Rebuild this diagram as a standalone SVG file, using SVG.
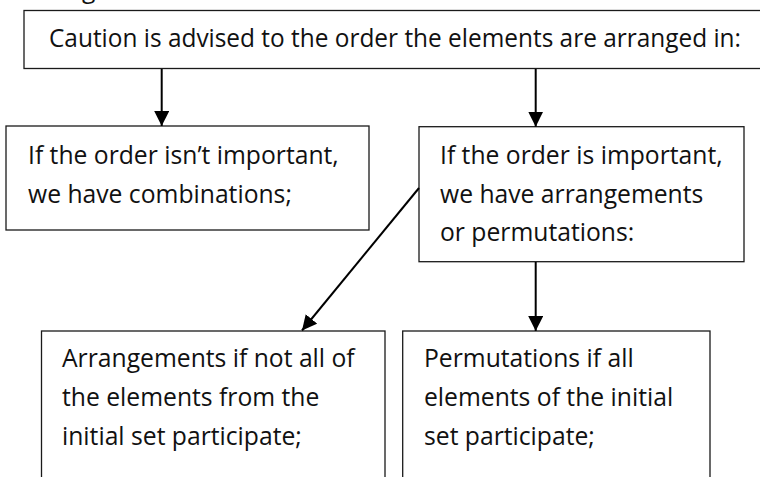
<svg xmlns="http://www.w3.org/2000/svg" width="760" height="477" viewBox="0 0 760 477">
<style>
.box{fill:#fff;stroke:#1a1a1a;stroke-width:1.3}
.t{font-family:"Open Sans","Noto Sans",sans-serif;font-size:24.7px;fill:#111}
.c{stroke:#000;stroke-width:2;fill:none}
</style>
<defs>
<marker id="ah" markerUnits="userSpaceOnUse" markerWidth="16" markerHeight="16" refX="15" refY="7.5" orient="auto">
<path d="M0,0 L15,7.5 L0,15 z" fill="#000"/>
</marker>
</defs>
<rect width="760" height="477" fill="#fff"/>
<text class="t" x="82" y="-2">g</text>
<g id="top">
<rect class="box" x="24" y="10.5" width="760" height="58"/>
<text class="t" x="49" y="46.7" textLength="692" lengthAdjust="spacingAndGlyphs">Caution is advised to the order the elements are arranged in:</text>
</g>
<g id="combinations">
<rect class="box" x="6" y="126" width="363" height="104"/>
<text class="t" x="28" y="163.5">If the order isn’t important,</text>
<text class="t" x="28" y="202.5">we have combinations;</text>
</g>
<g id="important">
<rect class="box" x="419" y="126.7" width="325" height="135"/>
<text class="t" x="440" y="164">If the order is important,</text>
<text class="t" x="440" y="202.5">we have arrangements</text>
<text class="t" x="440" y="241">or permutations:</text>
</g>
<g id="arrangements">
<rect class="box" x="41.5" y="331" width="343.5" height="170"/>
<text class="t" x="62" y="367">Arrangements if not all of</text>
<text class="t" x="62" y="406">the elements from the</text>
<text class="t" x="62" y="444.5">initial set participate;</text>
</g>
<g id="permutations">
<rect class="box" x="402.7" y="331" width="307.3" height="170"/>
<text class="t" x="424" y="367">Permutations if all</text>
<text class="t" x="424" y="406">elements of the initial</text>
<text class="t" x="424" y="444.5">set participate;</text>
</g>
<g id="connectors">
<line class="c" x1="161.7" y1="69" x2="161.7" y2="126" marker-end="url(#ah)"/>
<line class="c" x1="535.7" y1="69" x2="535.7" y2="126.7" marker-end="url(#ah)"/>
<line class="c" x1="535.7" y1="262" x2="535.7" y2="331" marker-end="url(#ah)"/>
<line class="c" x1="419" y1="188" x2="302" y2="330.5" marker-end="url(#ah)"/>
</g>
</svg>
